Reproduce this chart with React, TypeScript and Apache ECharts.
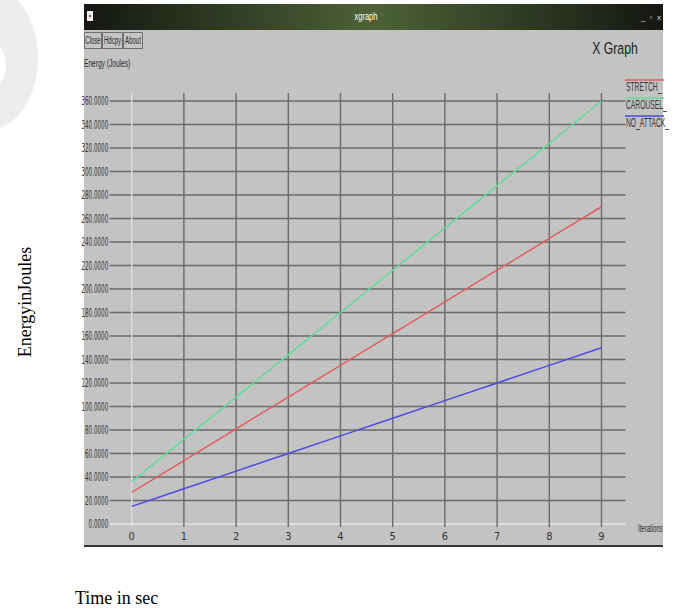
import React, { useEffect, useRef } from "react";
import * as echarts from "echarts";

// ---- data ----
const iterations = [0, 1, 2, 3, 4, 5, 6, 7, 8, 9];
const stretch = [27, 54, 81, 108, 135, 162, 189, 216, 243, 270];
const carousel = [36, 72, 108, 144, 180, 216, 252, 288, 324, 360];
const noAttack = [15, 30, 45, 60, 75, 90, 105, 120, 135, 150];
const yTicks = [0, 20, 40, 60, 80, 100, 120, 140, 160, 180, 200, 220, 240, 260, 280, 300, 320, 340, 360];
const xTicks = [0, 1, 2, 3, 4, 5, 6, 7, 8, 9];
const seriesNames = ["STRETCH_", "CAROUSEL_", "NO_ATTACK_"];
const seriesColors = ["#e25d5d", "#62dc96", "#4a4ae6"];
const buttons = ["Close", "Hdcpy", "About"];

const NARROW = '"Liberation Sans Narrow", "DejaVu Sans Condensed", "Liberation Sans", sans-serif';
const SANS = '"Liberation Sans", Arial, sans-serif';
const SERIF = '"Liberation Serif", "Times New Roman", serif';

export default function App() {
  const ref = useRef<HTMLDivElement>(null);
  useEffect(() => {
    document.body.style.margin = "0";
    const chart = echarts.init(ref.current!, undefined, { renderer: "svg" });
    const xMin = xTicks[0];
    const xMax = xTicks[xTicks.length - 1];
    const yMin = yTicks[0];
    const yMax = yTicks[yTicks.length - 1];

    const hGrid = {
      type: "custom",
      silent: true,
      z: 1,
      clip: false,
      data: yTicks.map((v) => [xMin, v]),
      renderItem: (_p: any, api: any) => {
        const v = api.value(1);
        const a = api.coord([xMin, v]);
        const b = api.coord([xMax, v]);
        return {
          type: "group",
          children: [
            {
              type: "line",
              shape: { x1: a[0] - 22, y1: a[1], x2: b[0] + 24, y2: b[1] },
              style: { stroke: v === yMin ? "#e6e6e6" : "#6a6a6a", lineWidth: 1.4 },
            },
            {
              type: "text",
              x: a[0] - 23.5,
              y: a[1],
              scaleX: 0.52,
              style: {
                text: v.toFixed(4),
                fill: "#333333",
                font: `12px ${NARROW}`,
                align: "right",
                verticalAlign: "middle",
              },
            },
          ],
        };
      },
    };
    const vGrid = {
      type: "custom",
      silent: true,
      z: 1,
      clip: false,
      data: xTicks.map((v) => [v, yMin]),
      renderItem: (_p: any, api: any) => {
        const v = api.value(0);
        const a = api.coord([v, yMin]);
        const b = api.coord([v, yMax]);
        return {
          type: "line",
          shape: { x1: a[0], y1: a[1] + 3, x2: b[0], y2: b[1] - 8 },
          style: { stroke: v === xMin ? "#dedede" : "#6a6a6a", lineWidth: 1.4 },
        };
      },
    };

    const lineSeries = [stretch, carousel, noAttack].map((vals, i) => ({
      type: "line",
      name: seriesNames[i],
      data: iterations.map((x, j) => [x, vals[j]]),
      showSymbol: false,
      symbol: "none",
      z: 3,
      lineStyle: { color: seriesColors[i], width: 1.5 },
      itemStyle: { color: seriesColors[i] },
    }));

    const legendEls: any[] = [];
    seriesNames.forEach((n, i) => {
      const y0 = 80 + i * 18;
      legendEls.push({
        type: "line",
        z: 10,
        shape: { x1: 625, y1: y0, x2: 664, y2: y0 },
        style: { stroke: seriesColors[i], lineWidth: 1.5 },
      });
      legendEls.push({
        type: "text",
        z: 10,
        x: 626,
        y: y0 + 7,
        scaleX: 0.56,
        style: { text: n, fill: "#333", font: `12px ${SANS}`, align: "left", verticalAlign: "middle" },
      });
    });

    const btnX = [84, 102, 123];
    const btnW = [18, 21, 20];
    const btnEls: any[] = [];
    buttons.forEach((b, i) => {
      btnEls.push({
        type: "rect",
        z: 5,
        shape: { x: btnX[i] + 0.5, y: 32.5, width: btnW[i] - 1, height: 16 },
        style: { fill: "#c6c6c6", stroke: "#6e6e6e", lineWidth: 1 },
      });
      btnEls.push({
        type: "text",
        z: 6,
        x: btnX[i] + btnW[i] / 2,
        y: 40.5,
        scaleX: 0.55,
        style: { text: b, fill: "#2a2a2a", font: `11px ${SANS}`, align: "center", verticalAlign: "middle" },
      });
    });

    chart.setOption({
      animation: false,
      backgroundColor: "#ffffff",
      grid: { left: 131.7, right: 72.5, top: 101, bottom: 88 },
      xAxis: {
        type: "value",
        min: xMin,
        max: xMax,
        interval: 1,
        axisLine: { show: false },
        axisTick: { show: false },
        splitLine: { show: false },
        axisLabel: { margin: 7, fontSize: 11, color: "#333333", fontFamily: NARROW },
      },
      yAxis: {
        type: "value",
        min: yMin,
        max: yMax,
        interval: 20,
        axisLine: { show: false },
        axisTick: { show: false },
        splitLine: { show: false },
        axisLabel: { show: false },
      },
      series: [hGrid, vGrid, ...lineSeries],
      graphic: [
        // watermark crescent on the page
        { type: "ellipse", z: -20, shape: { cx: -12, cy: 58, rx: 50, ry: 72 }, style: { fill: "#ededed" } },
        { type: "ellipse", z: -19, shape: { cx: -22, cy: 65, rx: 28, ry: 30 }, style: { fill: "#ffffff" } },
        // window body
        { type: "rect", z: -10, shape: { x: 84, y: 4, width: 579, height: 542 }, style: { fill: "#c3c3c3" } },
        { type: "line", z: -9, shape: { x1: 84, y1: 546, x2: 663, y2: 546 }, style: { stroke: "#333", lineWidth: 2 } },
        // title bar
        {
          type: "rect",
          z: -9,
          shape: { x: 84, y: 4, width: 579, height: 26 },
          style: {
            fill: new echarts.graphic.LinearGradient(0, 0, 1, 0, [
              { offset: 0, color: "#141712" },
              { offset: 0.5, color: "#4d6236" },
              { offset: 1, color: "#141712" },
            ]),
          },
        },
        { type: "rect", z: 5, shape: { x: 87, y: 11, width: 6, height: 10 }, style: { fill: "#f2f2f2" } },
        { type: "rect", z: 6, shape: { x: 89, y: 15, width: 2, height: 2 }, style: { fill: "#d03030" } },
        {
          type: "text",
          z: 6,
          x: 366,
          y: 17,
          scaleX: 0.75,
          style: { text: "xgraph", fill: "#ffffff", font: `10px ${SANS}`, align: "center", verticalAlign: "middle" },
        },
        {
          type: "text",
          z: 6,
          x: 651,
          y: 17,
          style: { text: "_  ▫  x", fill: "#dddddd", font: `8px ${SANS}`, align: "center", verticalAlign: "middle" },
        },
        ...btnEls,
        {
          type: "text",
          z: 6,
          x: 84,
          y: 63,
          scaleX: 0.6,
          style: { text: "Energy (Joules)", fill: "#2a2a2a", font: `11px ${SANS}`, align: "left", verticalAlign: "middle" },
        },
        {
          type: "text",
          z: 6,
          x: 615,
          y: 48,
          scaleX: 0.72,
          style: { text: "X Graph", fill: "#222", font: `17px ${SANS}`, align: "center", verticalAlign: "middle" },
        },
        {
          type: "text",
          z: 6,
          x: 638,
          y: 528,
          scaleX: 0.55,
          style: { text: "Iterations", fill: "#2a2a2a", font: `11px ${SANS}`, align: "left", verticalAlign: "middle" },
        },
        ...legendEls,
        // page texts
        {
          type: "text",
          z: 6,
          x: 25,
          y: 302,
          rotation: Math.PI / 2,
          style: { text: "EnergyinJoules", fill: "#000", font: `18px ${SERIF}`, align: "center", verticalAlign: "middle" },
        },
        {
          type: "text",
          z: 6,
          x: 75,
          y: 598,
          style: { text: "Time in sec", fill: "#000", font: `18px ${SERIF}`, align: "left", verticalAlign: "middle" },
        },
      ],
    });
    return () => chart.dispose();
  }, []);
  return <div ref={ref} style={{ width: 674, height: 612 }} />;
}
